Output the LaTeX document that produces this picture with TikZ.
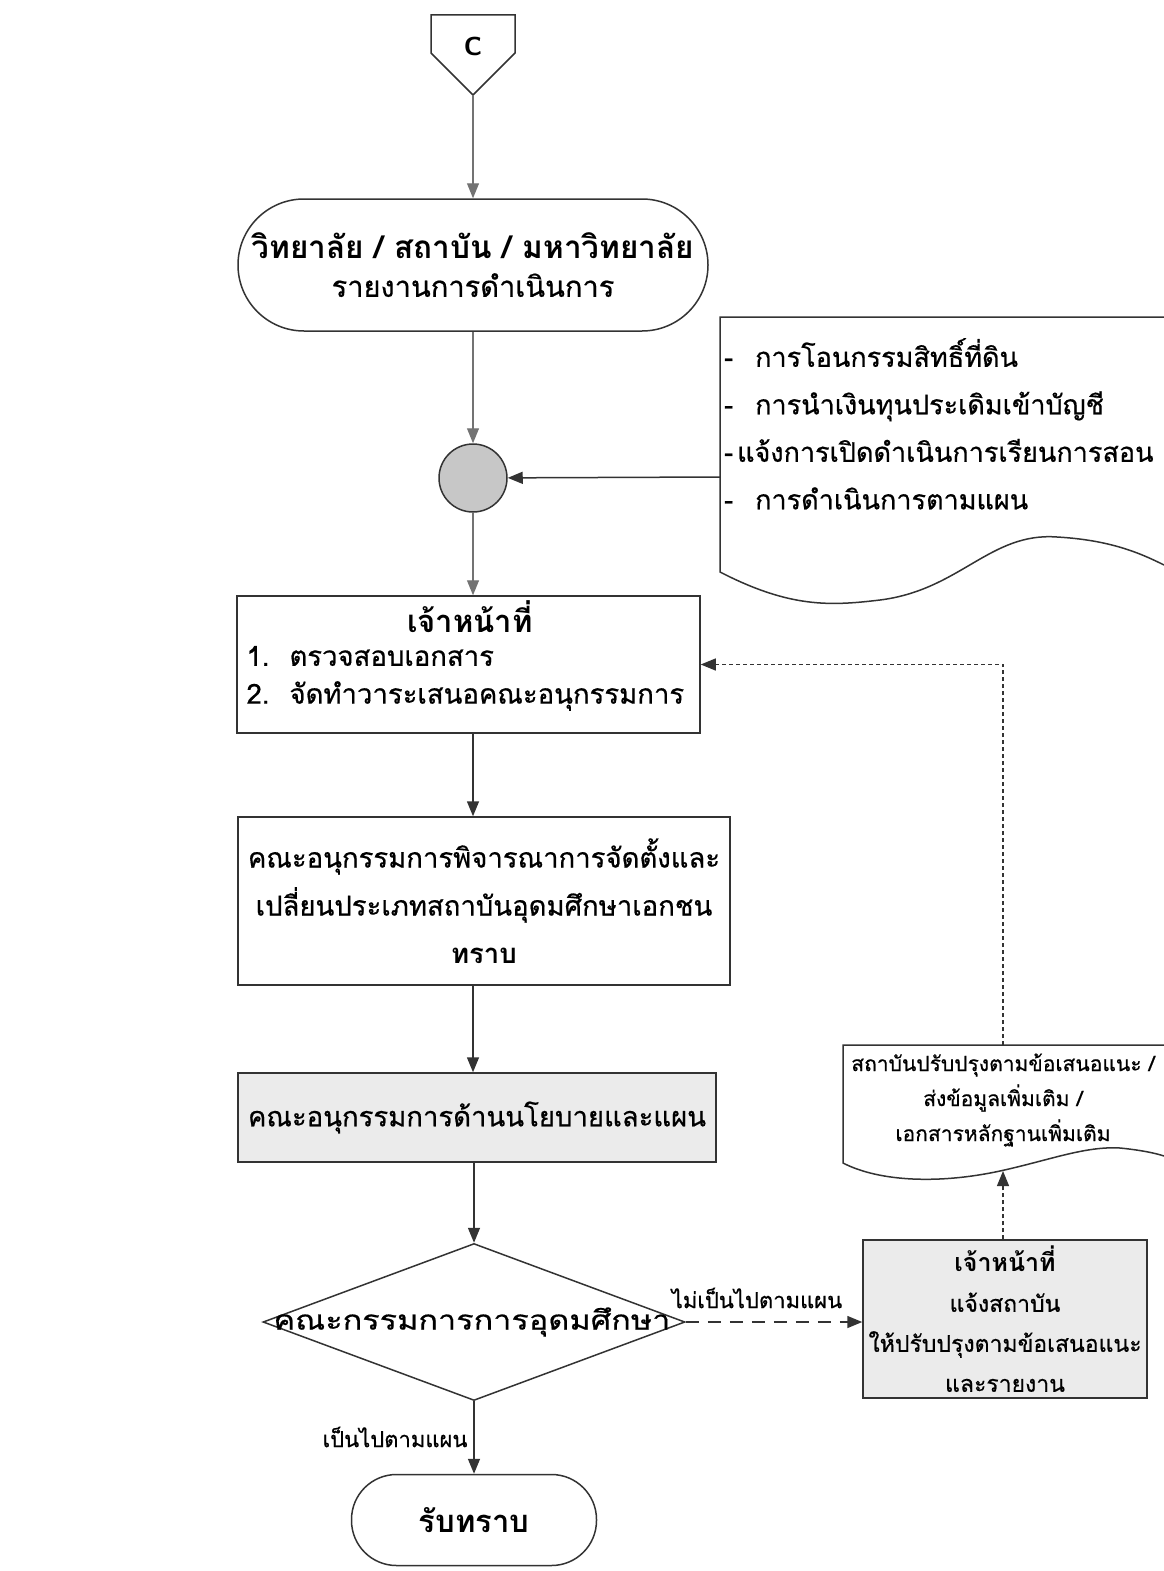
\documentclass[tikz,border=0pt]{standalone}
\usepackage{fontspec}
\newfontfamily\thai[Script=Thai,FakeBold=0.6]{Loma}
\newfontfamily\thaib[Script=Thai]{Loma Bold}
\newfontfamily\thaiw[Script=Thai,FakeBold=0.6,FakeStretch=1.2]{Loma}
\usetikzlibrary{arrows.meta,shapes.geometric}
\definecolor{lc}{gray}{0.2}
\definecolor{lcl}{gray}{0.45}
\definecolor{boxfill}{gray}{0.92}
\definecolor{jfill}{gray}{0.78}
\begin{document}
\begin{tikzpicture}[x=1pt,y=-1pt,
  line/.style={draw=lc, line width=1.5pt},
  arr/.style={line, -{Triangle[length=15pt,width=12pt]}},
  arrl/.style={draw=lcl, line width=1.2pt, -{Triangle[length=15pt,width=12pt]}},
  darr/.style={arr, line width=1.2pt, dash pattern=on 4pt off 3pt},
  ldarr/.style={arr, dash pattern=on 13pt off 9pt},
  tb/.style={font=\thai\fontsize{27.5}{48}\selectfont},
]
\useasboundingbox (0,0) rectangle (1164,1571);
\fill[white] (0,0) rectangle (1164,1571);

% off-page connector
\draw[line] (431,15) -- (515,15) -- (515,53) -- (473,95) -- (431,53) -- cycle;
\node[font=\sffamily\bfseries\fontsize{26}{30}\selectfont] (c) at (473,46) {C};
\coordinate (cb) at (473,95);

% terminator top
\node[line, rounded corners=66pt, minimum width=470pt, minimum height=132pt, align=center,
      font=\thai\fontsize{29}{38}\selectfont] (t1) at (473,265)
      {{\thaib\fontsize{31.5}{38}\selectfont วิทยาลัย / สถาบัน / มหาวิทยาลัย}\\
       รายงานการดำเนินการ};
\draw[arrl] (cb) -- (t1);

% junction
\node[line, circle, fill=jfill, minimum size=68pt, inner sep=0pt] (j) at (473,478) {};
\draw[arrl] (t1) -- (j);

% document 1
\draw[line] (1164,317) -- (720,317) -- (720,572)
  .. controls (790,608) and (830,606) .. (880,600)
  .. controls (960,590) and (990,532) .. (1057,537)
  .. controls (1110,540) and (1140,553) .. (1164,565);
\node[anchor=north west, align=left, inner sep=0pt, font=\thai\fontsize{27}{47.5}\selectfont] (d1t) at (724,338)
  {-\hspace{22pt}การโอนกรรมสิทธิ์ที่ดิน\\
   -\hspace{22pt}การนำเงินทุนประเดิมเข้าบัญชี\\
   -\hspace{4pt}แจ้งการเปิดดำเนินการเรียนการสอน\\
   -\hspace{22pt}การดำเนินการตามแผน};
\coordinate (d1in) at (720,477);
\draw[arr] (d1in) -- (j);

% box 1
\node[line, minimum width=463pt, minimum height=137pt, inner sep=0pt] (b1) at (468.5,664.5) {};
\node[font=\thaib\fontsize{31}{34}\selectfont] (b1h) at (470,617) {เจ้าหน้าที่};
\node[anchor=west, tb] (b1a) at (243,656) {1.\hspace{20pt}ตรวจสอบเอกสาร};
\node[anchor=west, tb] (b1b) at (243,696) {2.\hspace{20pt}จัดทำวาระเสนอคณะอนุกรรมการ};
\draw[arrl] (j) -- (b1.north -| j);

% box 2
\node[line, minimum width=492pt, minimum height=168pt, align=center, tb] (b2) at (484,901)
  {คณะอนุกรรมการพิจารณาการจัดตั้งและ\\เปลี่ยนประเภทสถาบันอุดมศึกษาเอกชน\\{\thaib ทราบ}};
\draw[arr] (b1.south -| j) -- (b2.north -| j);

% box 3
\node[line, fill=boxfill, minimum width=478pt, minimum height=89pt, tb] (b3) at (477,1117.5)
  {คณะอนุกรรมการด้านนโยบายและแผน};
\draw[arr] (b2.south -| j) -- (b3.north -| j);

% decision
\node[line, diamond, minimum width=422pt, minimum height=157pt, inner sep=0pt] (dia) at (474,1322) {};
\node[font=\thaiw\fontsize{27}{30}\selectfont] (diat) at (472,1322) {คณะกรรมการการอุดมศึกษา};
\draw[arr] (b3.south -| dia) -- (dia.north);

% box 4
\node[line, fill=boxfill, minimum width=284pt, minimum height=158pt, align=center,
      font=\thai\fontsize{23}{40}\selectfont] (b4) at (1005,1319)
  {{\thaib\fontsize{25}{40}\selectfont เจ้าหน้าที่}\\แจ้งสถาบัน\\ให้ปรับปรุงตามข้อเสนอแนะ\\และรายงาน};
\draw[ldarr] (dia.east) -- (dia.east -| b4.west);
\node[font=\thai\fontsize{22}{26}\selectfont] (no) at (757,1298) {ไม่เป็นไปตามแผน};

% document 2
\draw[line] (1164,1045) -- (843,1045) -- (843,1163)
  .. controls (880,1182) and (940,1184) .. (1000,1171)
  .. controls (1050,1160) and (1085,1146) .. (1120,1148)
  .. controls (1140,1150) and (1155,1153) .. (1164,1156);
\node[align=center, font=\thai\fontsize{21}{35}\selectfont] (d2t) at (1003,1100)
  {สถาบันปรับปรุงตามข้อเสนอแนะ /\\ส่งข้อมูลเพิ่มเติม /\\เอกสารหลักฐานเพิ่มเติม};
\coordinate (d2top) at (1003,1045);
\coordinate (d2bot) at (1003,1171);
\draw[darr] (b4.north -| d2bot) -- (d2bot);
\draw[darr] (d2top) |- (b1.east);

% end terminator
\node[line, rounded corners=45pt, minimum width=245pt, minimum height=91pt,
      font=\thaib\fontsize{31}{34}\selectfont] (t2) at (474,1520) {รับทราบ};
\draw[arr] (dia.south) -- (t2.north);
\node[anchor=east, font=\thai\fontsize{22}{26}\selectfont] (yes) at (471,1437) {เป็นไปตามแผน};
\end{tikzpicture}
\end{document}
